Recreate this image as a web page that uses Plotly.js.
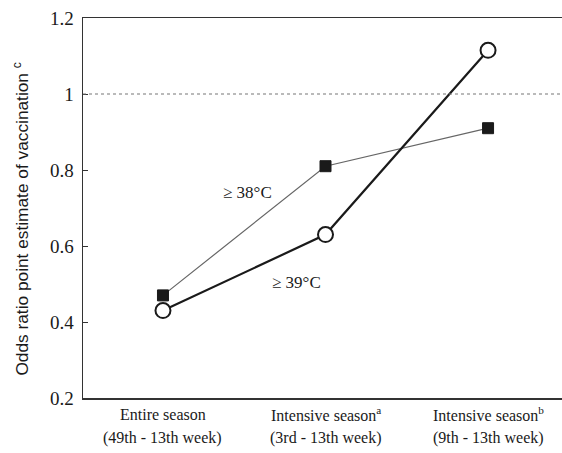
<!DOCTYPE html>
<html>
<head>
<meta charset="utf-8">
<script src="https://cdn.plot.ly/plotly-3.0.1.min.js"></script>
<style>html,body{margin:0;padding:0;background:#fff;}#chart{width:562px;height:453px;}</style>
</head>
<body>
<div id="chart"></div>
<script>
// Data
const categories = [0, 1, 2];
const catLine1 = ["Entire season", "Intensive season<sup>a</sup>", "Intensive season<sup>b</sup>"];
const catLine2 = ["(49th - 13th week)", "(3rd - 13th week)", "(9th - 13th week)"];
const seriesNames = ["\u2265 38\u00B0C", "\u2265 39\u00B0C"];
const or38 = [0.47, 0.81, 0.91];
const or39 = [0.43, 0.63, 1.115];
const refLineValue = 1;
const yTickVals = [0.2, 0.4, 0.6, 0.8, 1, 1.2];
const yTickText = ["0.2", "0.4", "0.6", "0.8", "1", "1.2"];
const yTitle = "Odds ratio point estimate of vaccination <sup>c</sup>";
const labelPos38 = [0.52, 0.742];
const labelPos39 = [0.82, 0.503];

const serif = "Liberation Serif";
const sans = "Liberation Sans";

const traces = [
  {
    x: categories, y: or38, name: seriesNames[0], type: "scatter", mode: "lines+markers",
    line: {color: "#666666", width: 1.2},
    marker: {symbol: "square", size: 11, color: "#1a1a1a", line: {color: "#1a1a1a", width: 1}}
  },
  {
    x: categories, y: or39, name: seriesNames[1], type: "scatter", mode: "lines+markers",
    line: {color: "#1a1a1a", width: 2.2},
    marker: {symbol: "circle", size: 15, color: "#ffffff", line: {color: "#1a1a1a", width: 2}}
  }
];

const annotations = [];
for (let i = 0; i < categories.length; i++) {
  annotations.push({x: categories[i], y: 0, xref: "x", yref: "paper", yshift: -16, text: catLine1[i],
    showarrow: false, font: {family: serif, size: 16, color: "#1a1a1a"}, xanchor: "center", yanchor: "middle"});
  annotations.push({x: categories[i], y: 0, xref: "x", yref: "paper", yshift: -40, text: catLine2[i],
    showarrow: false, font: {family: serif, size: 16, color: "#1a1a1a"}, xanchor: "center", yanchor: "middle"});
}
annotations.push({x: labelPos38[0], y: labelPos38[1], xref: "x", yref: "y", text: seriesNames[0], showarrow: false,
  font: {family: serif, size: 17, color: "#1a1a1a"}});
annotations.push({x: labelPos39[0], y: labelPos39[1], xref: "x", yref: "y", text: seriesNames[1], showarrow: false,
  font: {family: serif, size: 17, color: "#1a1a1a"}});
annotations.push({x: -0.129, y: 0.47, xref: "paper", yref: "paper", text: yTitle, textangle: -90, showarrow: false,
  xanchor: "center", yanchor: "middle", font: {family: sans, size: 17.3, color: "#1a1a1a"}});

const layout = {
  width: 562, height: 453,
  margin: {l: 83, r: 0, t: 18, b: 55},
  paper_bgcolor: "#ffffff", plot_bgcolor: "#ffffff",
  showlegend: false,
  xaxis: {
    range: [-0.492, 2.455], showticklabels: false, ticks: "", showgrid: false, zeroline: false,
    showline: true, linecolor: "#333333", linewidth: 1.5, mirror: true
  },
  yaxis: {
    range: [0.2, 1.2], tickvals: yTickVals, ticktext: yTickText, ticks: "inside", ticklen: 5, tickcolor: "#333333",
    showgrid: false, zeroline: false, showline: true, linecolor: "#333333", linewidth: 1.5,
    tickfont: {family: serif, size: 19, color: "#1a1a1a"}, ticklabelstandoff: 4
  },
  shapes: [{type: "line", xref: "paper", x0: 0, x1: 1, yref: "y", y0: refLineValue, y1: refLineValue,
    line: {color: "#777777", width: 1.2, dash: "dot"}}],
  annotations: annotations
};

Plotly.newPlot("chart", traces, layout, {displayModeBar: false, staticPlot: true});
</script>
</body>
</html>
